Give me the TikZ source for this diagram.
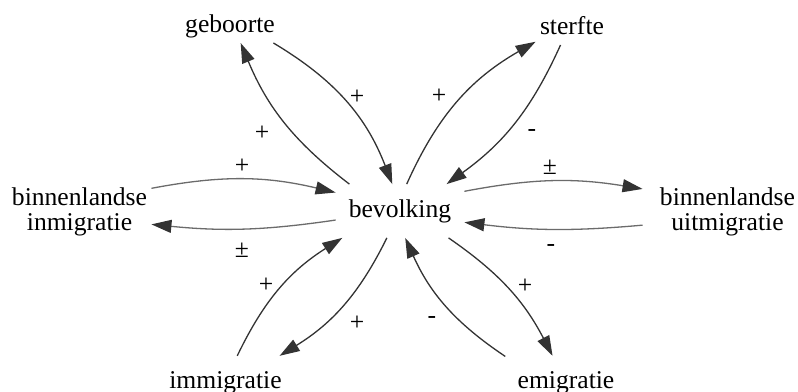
\documentclass[tikz,border=0pt]{standalone}
\usepackage{fontspec}
\setmainfont{Liberation Serif}
\usetikzlibrary{arrows.meta}

\definecolor{ink}{gray}{0.2}
\definecolor{softink}{gray}{0.42}

\tikzset{
  var/.style={inner sep=2pt, text height=8.6pt, text depth=2.8pt},
  var2/.style={inner sep=2pt, align=center},
  link/.style={draw=ink, line width=0.65pt, -{Triangle[length=10pt,width=6.5pt,color=ink]}},
  hlink/.style={link, draw=softink},
  sign/.style={inner sep=0pt},
}

\begin{document}
\begin{tikzpicture}[x=0.5pt, y=0.5pt, font=\fontsize{12.8pt}{12.5pt}\selectfont]
    \useasboundingbox (0,0) rectangle (798,391);
    % variabelen
    \node[inner sep=2pt, minimum width=64pt, minimum height=26.5pt] (bev) at (400,180) {bevolking};
    \node[var, anchor=base] (geb) at (230,358) {geboorte};
    \node[var, anchor=base] (ster) at (572,356) {sterfte};
    \node[var2] (binin) at (79.5,179.3) {binnenlandse\\inmigratie};
    \node[var2, inner xsep=8.5pt] (binuit) at (727.5,179.3) {binnenlandse\\uitmigratie};
    \node[var, anchor=base, inner ysep=7.3pt] (imm) at (225.5,3) {immigratie};
    \node[var, anchor=base, inner ysep=7.3pt, inner xsep=6pt] (emi) at (566,3) {emigratie};
    % verbindingen
    \draw[link, bend left=19] (geb.-20) to (bev.106);
    \draw[link, bend left=15] (bev.152) to (geb.-56);
    \draw[link, bend left=18] (bev.76) to (ster.-161.5);
    \draw[link, bend left=15] (ster.-126) to (bev.30);
    \draw[hlink, bend left=12] (binin.18) to (bev.164);
    \draw[hlink, bend left=7] (bev.-172) to (binin.-10);
    \draw[hlink, bend left=10] (bev.17.6) to (binuit.165);
    \draw[hlink, bend left=6] (binuit.-171.5) to (bev.-10.4);
    \draw[link, bend left=16] (imm.66.6) to (bev.-155.6);
    \draw[link, bend left=16] (bev.-116.6) to (imm.26);
    \draw[link, bend left=14] (bev.-29) to (emi.117);
    \draw[link, bend left=16] (emi.157) to (bev.-79.5);
    % tekens
    \node[sign] (s1) at (357,294) {+};
    \node[sign] (s2) at (262,258) {+};
    \node[sign] (s3) at (242,225) {+};
    \node[sign] (s4) at (439,295) {+};
    \node[sign] (s5) at (532,258) {-};
    \node[sign] (s6) at (550,223.5) {±};
    \node[sign] (s7) at (551,143) {-};
    \node[sign] (s8) at (242,141) {±};
    \node[sign] (s9) at (266,106) {+};
    \node[sign] (s10) at (357,68) {+};
    \node[sign] (s11) at (525,105) {+};
    \node[sign] (s12) at (432,71) {-};
\end{tikzpicture}
\end{document}
